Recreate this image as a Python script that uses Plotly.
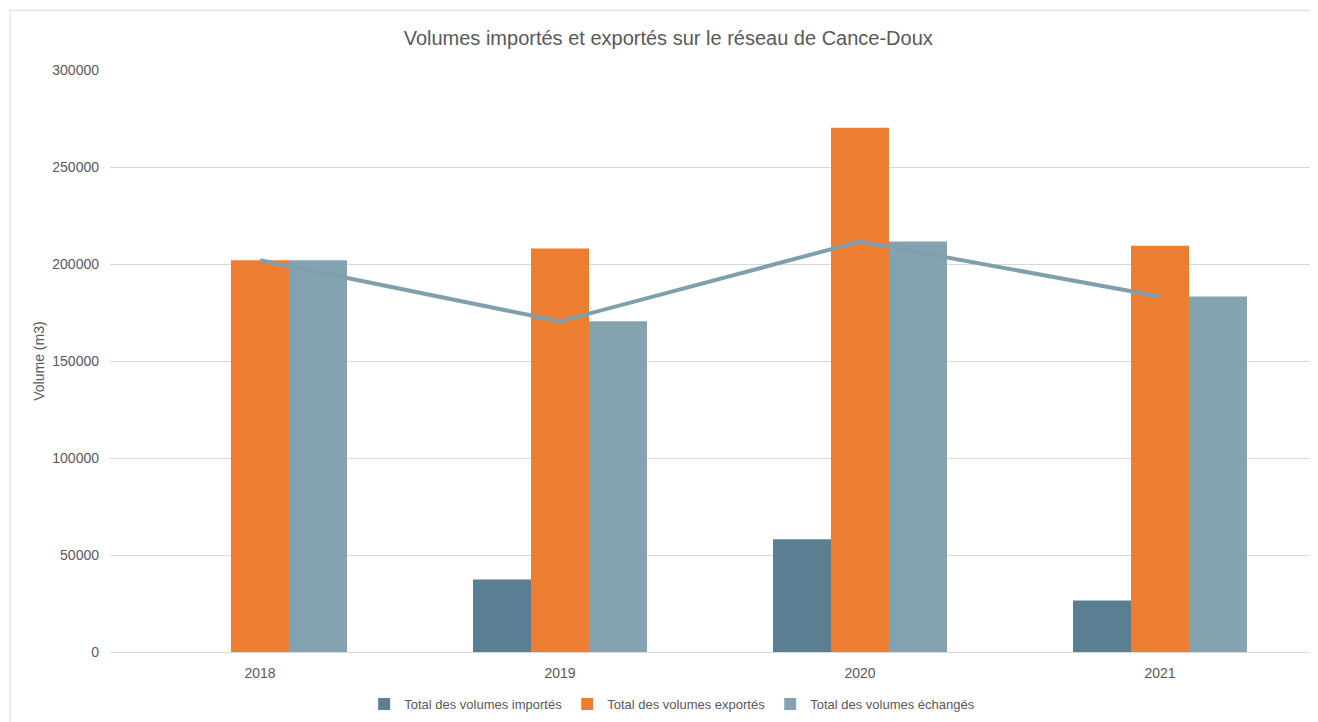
import plotly.graph_objects as go

years = ["2018", "2019", "2020", "2021"]
imported = [0, 37500, 58200, 26700]
exported = [202000, 208000, 270200, 209500]
exchanged = [202000, 170500, 211600, 183300]
title = "Volumes importés et exportés sur le réseau de Cance-Doux"
y_title = "Volume (m3)"
y_ticks = [0, 50000, 100000, 150000, 200000, 250000, 300000]

c_imp = "#5b7f92"
c_exp = "#ed7d31"
c_ech = "#84a2b0"
font = "Liberation Sans"

fig = go.Figure()
fig.add_trace(go.Bar(x=years, y=imported, name="Total des volumes importés",
                     marker=dict(color=c_imp, line=dict(width=0))))
fig.add_trace(go.Bar(x=years, y=exported, name="Total des volumes exportés",
                     marker=dict(color=c_exp, line=dict(width=0))))
fig.add_trace(go.Bar(x=years, y=exchanged, name="Total des volumes échangés",
                     marker=dict(color=c_ech, line=dict(width=0))))
fig.add_trace(go.Scatter(x=years, y=exchanged, mode="lines", line=dict(color="#7f9fae", width=4),
                         showlegend=False, hoverinfo="skip"))

fig.update_layout(
    width=1310, height=714,
    margin=dict(l=102, r=8, t=62, b=66),
    paper_bgcolor="white", plot_bgcolor="white",
    barmode="group", bargap=0.42, bargroupgap=0,
    title=dict(text=title, x=0.504, xref="container", xanchor="center",
               y=1 - 30 / 714, yref="container", yanchor="middle",
               font=dict(family=font, size=20, color="#595959")),
    font=dict(family=font, color="#595959"),
    legend=dict(orientation="h", x=0.507, xref="container", xanchor="center",
                y=1 - 696 / 714, yref="container", yanchor="middle",
                font=dict(size=13, color="#595959"), itemwidth=30, traceorder="normal"),
    showlegend=True,
)
fig.update_xaxes(showgrid=False, showline=True, linecolor="#d9d9d9", linewidth=1,
                 ticks="", ticklabelstandoff=8, tickfont=dict(size=14, color="#595959"))
fig.update_yaxes(range=[0, 300000], tickvals=y_ticks, tickformat="d",
                 showgrid=True, gridcolor="#d9d9d9", gridwidth=1, zeroline=False,
                 showline=False, ticks="", ticklen=0, ticklabelstandoff=10,
                 tickfont=dict(size=14, color="#595959"),
                 title=dict(text=y_title, font=dict(size=14, color="#595959"), standoff=4))
fig.add_shape(type="rect", xref="paper", yref="paper",
              x0=-0.0833, x1=1.005, y0=-0.2, y1=1.1027,
              line=dict(color="#d9d9d9", width=1), fillcolor="rgba(0,0,0,0)", layer="below")
fig.write_html("out.html")
